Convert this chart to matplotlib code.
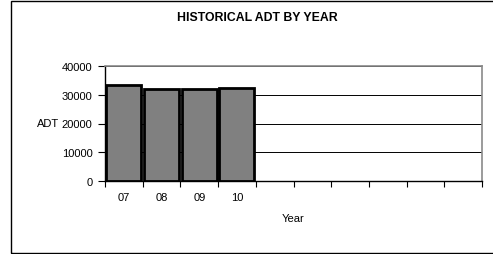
import matplotlib

matplotlib.use("Agg")
import matplotlib.pyplot as plt
from matplotlib import font_manager
from matplotlib.patches import Rectangle

# pick the regular (not Narrow) Liberation Sans files explicitly
def _font(bold=False, size=8):
    for f in font_manager.fontManager.ttflist:
        if f.name == "Liberation Sans" and f.stretch == "normal" and f.style == "normal":
            if (f.weight == 700) == bold:
                return font_manager.FontProperties(fname=f.fname, size=size)
    return font_manager.FontProperties(family="DejaVu Sans", size=size,
                                       weight="bold" if bold else "normal")

REG = _font()
BOLD = _font(bold=True, size=8.8)

YEARS = ["07", "08", "09", "10", "", "", "", "", "", ""]
ADT = [33300, 32100, 32100, 32200]
Y_TICKS = [0, 10000, 20000, 30000, 40000]

W, H = 493, 255
fig = plt.figure(figsize=(W / 100, H / 100), dpi=100)

# outer chart border (right side runs off the image)
fig.patches.append(Rectangle((11 / W, 1 / H), 500 / W, 252 / H, transform=fig.transFigure,
                             fill=False, edgecolor="black", linewidth=1.0))

ax = fig.add_axes([105 / W, 1 - 182 / H, 377 / W, 115 / H])
x = list(range(len(YEARS)))
ax.bar(x[:len(ADT)], ADT, width=0.93, color="#808080", edgecolor="black", linewidth=2.0, zorder=3)

ax.set_xlim(-0.5, len(YEARS) - 0.5)
ax.set_ylim(0, 40000)
ax.set_yticks(Y_TICKS)
ax.set_yticklabels([str(v) for v in Y_TICKS], fontproperties=REG)
ax.set_xticks(x)
ax.set_xticklabels(YEARS, fontproperties=REG)
ax.set_xticks([i - 0.5 for i in range(len(YEARS) + 1)], minor=True)
ax.tick_params(axis="x", which="major", length=0, pad=8)
ax.tick_params(axis="x", which="minor", length=4, width=0.8, direction="out")
ax.tick_params(axis="y", length=5, width=0.8, pad=4)

ax.grid(axis="y", color="black", linewidth=0.7, zorder=0)
for side in ("top", "right"):
    ax.spines[side].set_color("#8a8a8a")
    ax.spines[side].set_linewidth(1.2)
for side in ("left", "bottom"):
    ax.spines[side].set_color("black")
    ax.spines[side].set_linewidth(1.0)

ax.set_xlabel("Year", fontproperties=REG, labelpad=8)
ax.set_ylabel("ADT", fontproperties=REG, rotation=0, ha="right", va="center")
ax.yaxis.set_label_coords((59 - 105) / 377, 0.5)

fig.text(257 / W, 1 - 18 / H, "HISTORICAL ADT BY YEAR", ha="center", va="center",
         fontproperties=BOLD)

fig.savefig("out.png", dpi=100)
